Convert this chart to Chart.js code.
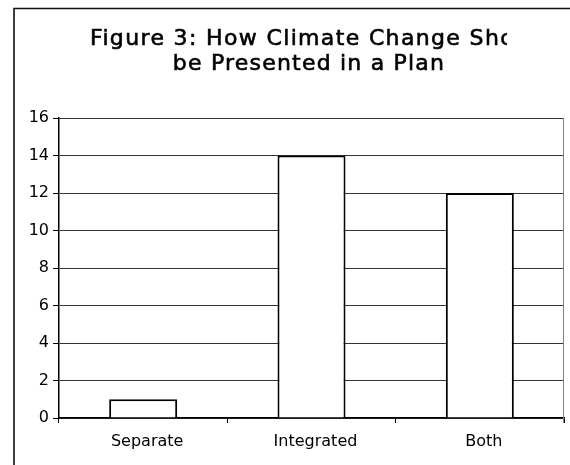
<!DOCTYPE html>
<html>
<head>
<meta charset="utf-8">
<script src="https://cdn.jsdelivr.net/npm/chart.js@4/dist/chart.umd.min.js"></script>
<style>
  html, body { margin: 0; padding: 0; background: #fff; }
  canvas { display: block; }
</style>
</head>
<body>
<canvas id="chart" width="570" height="465"></canvas>
<script>
// Survey data
const titleLines = ['Figure 3: How Climate Change Should', 'be Presented in a Plan'];
const categories = ['Separate', 'Integrated', 'Both'];
const responses = [1, 14, 12];
const yTickValues = [0, 2, 4, 6, 8, 10, 12, 14, 16];

const FONT = '"DejaVu Sans", Verdana, sans-serif';

// White background plus the open frame (left and top edges) around the figure
const framePlugin = {
  id: 'frame',
  beforeDraw(chart) {
    const ctx = chart.ctx;
    ctx.save();
    ctx.fillStyle = '#fff';
    ctx.fillRect(0, 0, chart.width, chart.height);
    ctx.strokeStyle = '#111';
    ctx.lineWidth = 1.6;
    ctx.beginPath();
    ctx.moveTo(14, chart.height + 2);
    ctx.lineTo(14, 8.5);
    ctx.lineTo(chart.width + 2, 8.5);
    ctx.stroke();
    ctx.restore();
  }
};

// Title text box: fixed width, overflowing text is clipped
const titleBoxPlugin = {
  id: 'titleBox',
  afterDraw(chart) {
    const ctx = chart.ctx;
    ctx.save();
    ctx.beginPath();
    ctx.rect(15, 10, 507 - 15, 80);
    ctx.clip();
    ctx.fillStyle = '#000';
    ctx.strokeStyle = '#000';
    ctx.lineWidth = 0.6;
    ctx.font = '22px ' + FONT;
    ctx.textBaseline = 'alphabetic';
    const hasSpacing = 'letterSpacing' in ctx;
    if (hasSpacing) ctx.letterSpacing = '1.35px';
    ctx.textAlign = 'left';
    ctx.fillText(titleLines[0], 90, 45);
    ctx.strokeText(titleLines[0], 90, 45);
    if (hasSpacing) ctx.letterSpacing = '1.2px';
    ctx.textAlign = 'center';
    ctx.fillText(titleLines[1], 309, 70);
    ctx.strokeText(titleLines[1], 309, 70);
    ctx.restore();
  }
};

// Right edge of the plot area
const plotEdgePlugin = {
  id: 'plotEdge',
  afterDatasetsDraw(chart) {
    const { ctx, chartArea: a } = chart;
    ctx.save();
    ctx.strokeStyle = '#808080';
    ctx.lineWidth = 1;
    ctx.beginPath();
    ctx.moveTo(Math.round(a.right) - 0.5, a.top);
    ctx.lineTo(Math.round(a.right) - 0.5, a.bottom + 5);
    ctx.stroke();
    ctx.restore();
  }
};

new Chart(document.getElementById('chart'), {
  type: 'bar',
  data: {
    labels: categories,
    datasets: [{
      data: responses,
      backgroundColor: '#fff',
      borderColor: '#000',
      borderWidth: 2,
      barPercentage: 0.404,
      categoryPercentage: 1.0
    }]
  },
  options: {
    responsive: false,
    animation: false,
    devicePixelRatio: 1,
    layout: { padding: { top: 118, right: 6, bottom: 0, left: 0 } },
    plugins: {
      legend: { display: false },
      title: { display: false },
      tooltip: { enabled: false }
    },
    scales: {
      x: {
        offset: true,
        grid: {
          offset: true,
          drawOnChartArea: false,
          drawTicks: true,
          tickLength: 5,
          tickColor: '#000',
          tickWidth: 1
        },
        border: { display: true, color: '#000', width: 1.5 },
        ticks: {
          color: '#000',
          font: { family: FONT, size: 16 },
          padding: 9,
          labelOffset: 4,
          maxRotation: 0
        },
        afterFit(scale) { scale.height = 47; }
      },
      y: {
        min: 0,
        max: 16,
        afterBuildTicks(scale) {
          scale.ticks = yTickValues.map(v => ({ value: v }));
        },
        grid: {
          color: '#333',
          lineWidth: 1,
          drawTicks: true,
          tickLength: 6,
          tickColor: '#000'
        },
        border: { display: true, color: '#000', width: 1.5 },
        ticks: {
          color: '#000',
          font: { family: FONT, size: 16 },
          padding: 4
        },
        afterFit(scale) { scale.width = 59; }
      }
    }
  },
  plugins: [framePlugin, titleBoxPlugin, plotEdgePlugin]
});
</script>
</body>
</html>
